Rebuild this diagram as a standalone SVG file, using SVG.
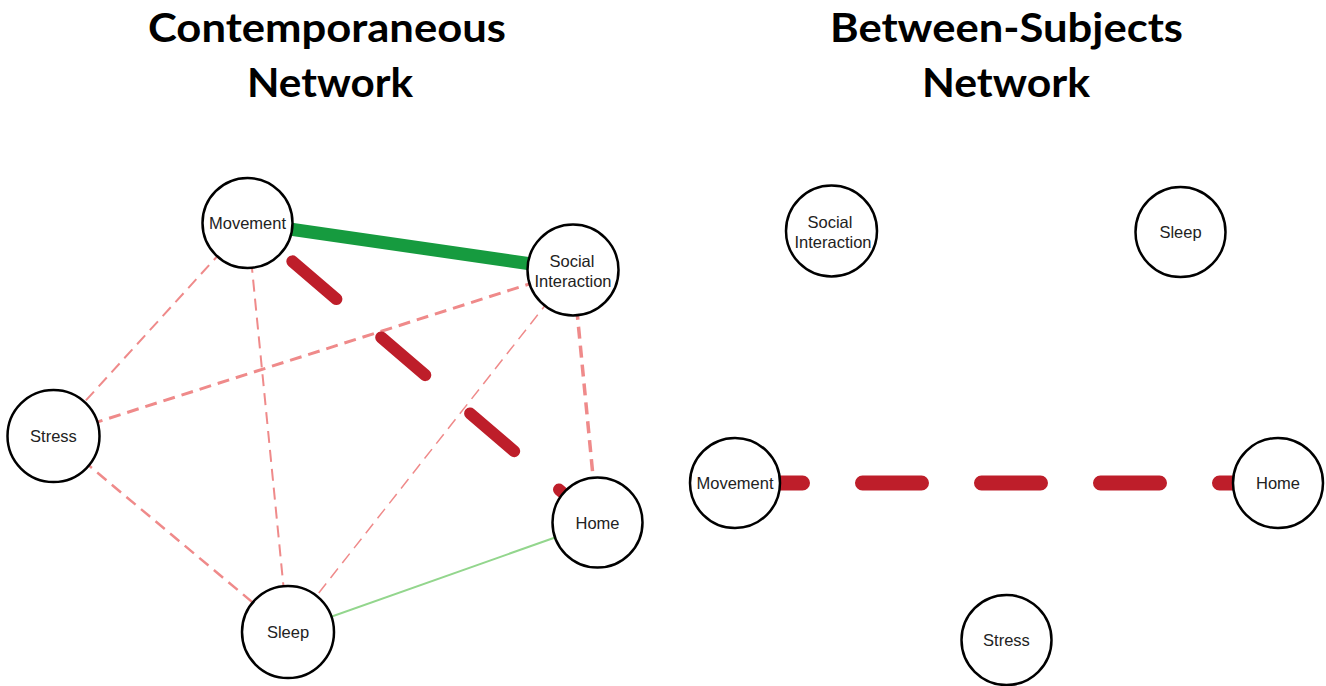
<svg xmlns="http://www.w3.org/2000/svg" width="1326" height="686" viewBox="0 0 1326 686">
<style>
.title{font-family:Lato,"Open Sans","Liberation Sans",sans-serif;font-weight:700;font-size:40px;fill:#000;text-anchor:middle}
.node circle{fill:#fff;stroke:#000;stroke-width:2.5}
.node text{font-family:"Liberation Sans",Arial,sans-serif;font-size:16.5px;fill:#222;text-anchor:middle}
.neg{stroke:#ef8a8a;fill:none;stroke-dasharray:12 7}
.negstrong{stroke:#be1e2a;fill:none;stroke-linecap:round}
.pos{stroke:#169b3f;fill:none}
.poslight{stroke:#93d68d;fill:none}
</style>
<rect width="1326" height="686" fill="#fff"/>
<g id="titles">
<text class="title" x="327" y="42" textLength="358" lengthAdjust="spacingAndGlyphs">Contemporaneous</text>
<text class="title" x="330" y="97" textLength="166" lengthAdjust="spacingAndGlyphs">Network</text>
<text class="title" x="1006.5" y="42" textLength="353" lengthAdjust="spacingAndGlyphs">Between-Subjects</text>
<text class="title" x="1006" y="97" textLength="168" lengthAdjust="spacingAndGlyphs">Network</text>
</g>
<g id="connectors">
<line class="neg" x1="247.5" y1="223" x2="53.5" y2="436" stroke-width="2"/>
<line class="neg" x1="247.5" y1="223" x2="288" y2="632" stroke-width="2"/>
<line class="neg" x1="573" y1="270" x2="53.5" y2="436" stroke-width="3"/>
<line class="neg" x1="573" y1="270" x2="288" y2="632" stroke-width="1.5"/>
<line class="neg" x1="573" y1="270" x2="597.5" y2="522.5" stroke-width="3.5" stroke-dasharray="16 9"/>
<line class="neg" x1="53.5" y1="436" x2="288" y2="632" stroke-width="2.5"/>
<line class="poslight" x1="288" y1="632" x2="597.5" y2="522.5" stroke-width="2"/>
<line class="pos" x1="247.5" y1="223" x2="573" y2="270" stroke-width="13"/>
<line class="negstrong" x1="247.5" y1="223" x2="597.5" y2="522.5" stroke-width="12" stroke-dasharray="58 59" stroke-dashoffset="58"/>
<line class="negstrong" x1="743.5" y1="483" x2="1278" y2="483" stroke-width="15" stroke-dasharray="59 60"/>
</g>
<g id="left-movement" class="node"><circle cx="247.5" cy="223" r="45"/><text x="247.5" y="229">Movement</text></g>
<g id="left-social" class="node"><circle cx="573" cy="270" r="45.5"/><text x="572" y="266.5">Social</text><text x="573" y="286.5">Interaction</text></g>
<g id="left-stress" class="node"><circle cx="53.5" cy="436" r="46"/><text x="53.5" y="442">Stress</text></g>
<g id="left-home" class="node"><circle cx="597.5" cy="522.5" r="45"/><text x="597.5" y="528.5">Home</text></g>
<g id="left-sleep" class="node"><circle cx="288" cy="632" r="46"/><text x="288" y="638">Sleep</text></g>
<g id="right-social" class="node"><circle cx="831.5" cy="231" r="45.5"/><text x="830" y="228">Social</text><text x="833" y="248">Interaction</text></g>
<g id="right-sleep" class="node"><circle cx="1180.5" cy="232" r="45"/><text x="1180.5" y="238">Sleep</text></g>
<g id="right-movement" class="node"><circle cx="735" cy="483" r="45"/><text x="735" y="489">Movement</text></g>
<g id="right-home" class="node"><circle cx="1278" cy="483" r="45"/><text x="1278" y="489">Home</text></g>
<g id="right-stress" class="node"><circle cx="1006.5" cy="640" r="45"/><text x="1006.5" y="646">Stress</text></g>
</svg>
